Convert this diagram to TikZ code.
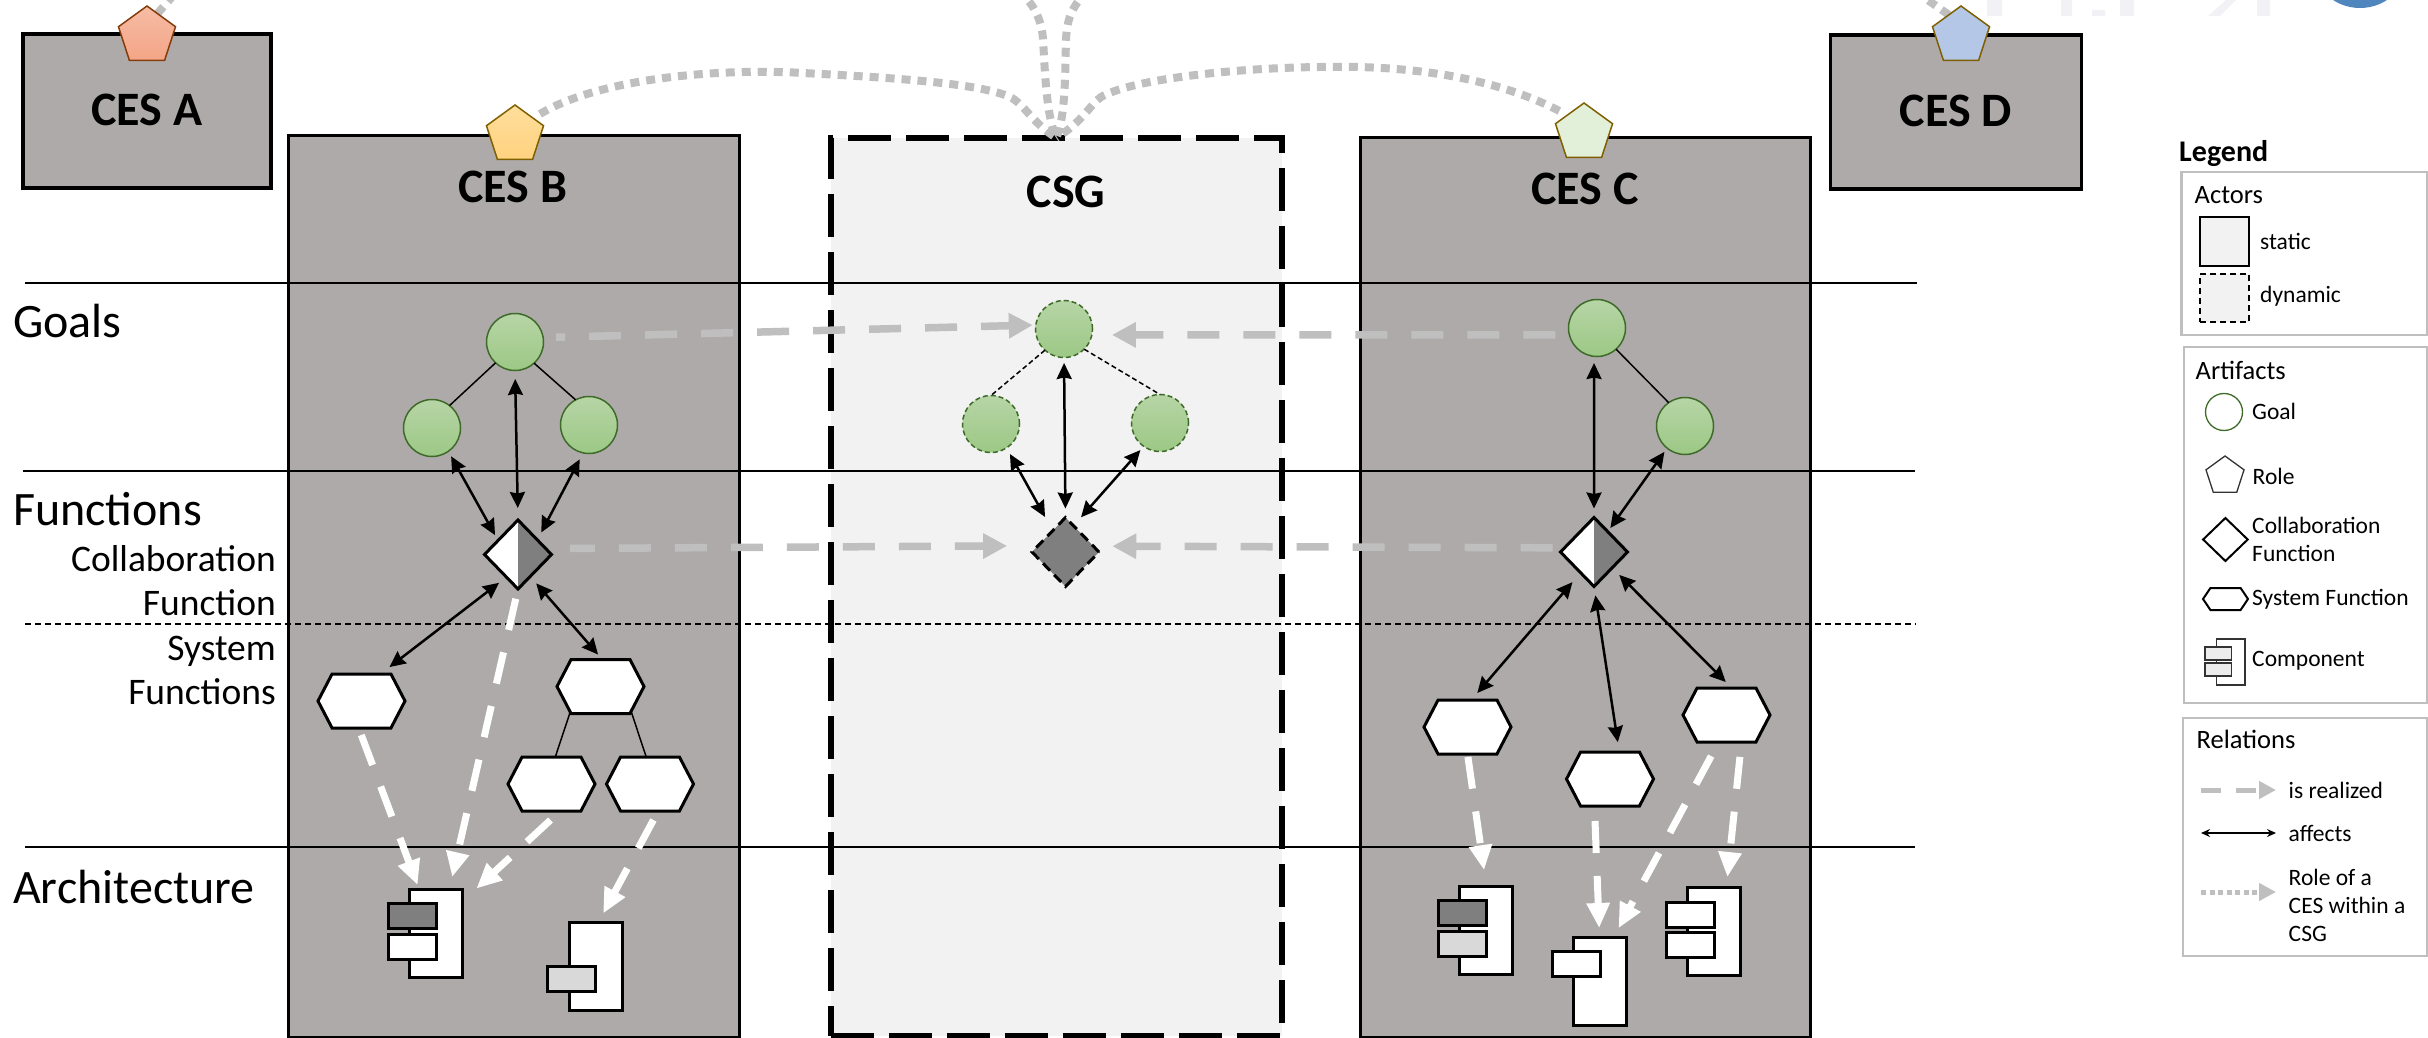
\documentclass[tikz,border=0pt]{standalone}
\usepackage{fontspec}
\setmainfont{Carlito}
\usetikzlibrary{arrows.meta,shapes.geometric,shapes.symbols,backgrounds}
\definecolor{cesgray}{HTML}{AEAAAA}
\definecolor{csgfill}{HTML}{F2F2F2}
\definecolor{arrowgray}{HTML}{BFBFBF}
\definecolor{midgray}{HTML}{7F7F7F}
\definecolor{lightgray2}{HTML}{D9D9D9}
\definecolor{goaltop}{HTML}{B7D5A6}
\definecolor{goalbot}{HTML}{9CC885}
\definecolor{goalline}{HTML}{3F6B2A}
\definecolor{roleline}{HTML}{7F6000}
\definecolor{roleredline}{HTML}{843C0C}
\definecolor{redtop}{HTML}{F6BCA5}
\definecolor{redbot}{HTML}{F4A586}
\definecolor{yellowtop}{HTML}{FFDE9C}
\definecolor{yellowbot}{HTML}{FFD27F}
\definecolor{rolegreen}{HTML}{E2EFD9}
\definecolor{roleblue}{HTML}{B4C7E7}
\definecolor{faint}{HTML}{F2F2F6}
\definecolor{logoblue}{HTML}{4F86BE}
\tikzset{
  cesbox/.style={rectangle,draw=black,fill=cesgray,line width=3pt,inner sep=0pt,outer sep=0pt},
  title/.style={inner sep=0pt,font=\fontsize{48}{50}\selectfont\bfseries,text height=30pt,text depth=0pt},
  leftlab/.style={inner sep=0pt,anchor=west,font=\fontsize{48}{50}\selectfont,text height=30pt,text depth=0pt},
  sublab/.style={inner sep=0pt,anchor=east,align=right,font=\fontsize{37.5}{44}\selectfont},
  pent/.style={regular polygon,regular polygon sides=5,minimum size=60pt,inner sep=0pt,outer sep=0pt,line width=1.5pt},
  goal/.style={circle,minimum size=57pt,inner sep=0pt,outer sep=0pt,draw=goalline,line width=1.5pt,top color=goaltop,bottom color=goalbot},
  dyngoal/.style={goal,dash pattern=on 5pt off 3pt},
  diam/.style={diamond,aspect=1,minimum width=67pt,minimum height=69pt,inner sep=0pt,outer sep=0pt,draw=black,line width=3pt},
  halfdiam/.style={diam,fill=white,path picture={\fill[midgray] (path picture bounding box.north) -- (path picture bounding box.east) -- (path picture bounding box.south) -- cycle;}},
  hexa/.style={signal,signal to=west and east,signal pointer angle=125,minimum width=87pt,minimum height=54pt,inner sep=0pt,outer sep=0pt,draw=black,fill=white,line width=3pt},
  combody/.style={rectangle,draw=black,fill=white,line width=3pt,minimum width=53pt,minimum height=88pt,inner sep=0pt,outer sep=0pt},
  comtab/.style={rectangle,draw=black,fill=white,line width=3pt,minimum width=48pt,minimum height=25pt,inner sep=0pt,outer sep=0pt},
  hline/.style={draw=black,line width=1.6pt},
  thinlink/.style={draw=black,line width=1.5pt},
  affects/.style={draw=black,line width=2.5pt,{Stealth[length=16pt,width=15pt,inset=1.5pt]}-{Stealth[length=16pt,width=15pt,inset=1.5pt]}},
  realize/.style={draw=arrowgray,line width=7.5pt,dash pattern=on 32pt off 24pt,-{Triangle[length=24pt,width=24pt]}},
  whitearrow/.style={draw=white,line width=7pt,dash pattern=on 32pt off 23pt,-{Triangle[length=25pt,width=22pt]}},
  rolecurve/.style={draw=arrowgray,line width=8pt,dash pattern=on 9pt off 7pt},
  legbox/.style={rectangle,draw=arrowgray,fill=white,line width=2.5pt,inner sep=0pt,outer sep=0pt},
  leghead/.style={inner sep=0pt,anchor=west,font=\fontsize{26.5}{30}\selectfont,text height=17pt,text depth=0pt},
  legtext/.style={inner sep=0pt,anchor=west,align=left,font=\fontsize{23.5}{28}\selectfont},
  legsym/.style={inner sep=0pt,outer sep=0pt,line width=2pt,draw=black!80,fill=white}
}
\begin{document}
\begin{tikzpicture}[x=1pt,y=-1pt]
\useasboundingbox (0,0) rectangle (2428,1038);
\clip (0,0) rectangle (2428,1038);
% faint remains at the top edge
\fill[faint] (1987,0) rectangle (2002,16) (2061,0) rectangle (2072,16) (2092,10) rectangle (2105,16) (2120,0) rectangle (2134,16) (2257,0) rectangle (2270,16);
\fill[faint] (2226,0) -- (2236,0) -- (2220,16) -- (2208,16) -- cycle;
\fill[logoblue] (2360,-41.6) circle (49.6);
% actors
\node[cesbox,minimum width=248pt,minimum height=154pt,line width=3.5pt,title] (cesA) at (147,111) {CES A};
\node[cesbox,minimum width=251pt,minimum height=154pt,line width=3.5pt,title] (cesD) at (1956,112) {CES D};
\node[cesbox,minimum width=451pt,minimum height=901pt] (cesB) at (513.5,586.5) {};
\node[rectangle,fill=csgfill,draw=black,line width=6pt,dash pattern=on 43pt off 15pt,minimum width=451pt,minimum height=898pt,inner sep=0pt,outer sep=0pt] (csg) at (1056.3,587) {};
\node[cesbox,minimum width=450pt,minimum height=899pt] (cesC) at (1585,587.5) {};
\node[title] (tB) at (513,187) {CES B};
\node[title] (tG) at (1066,192) {CSG};
\node[title] (tC) at (1585,189) {CES C};
% layer lines
\coordinate (l1a) at (25,283); \coordinate (l1b) at (1917,283);
\coordinate (l2a) at (23,471); \coordinate (l2b) at (1915,471);
\coordinate (l3a) at (25,623.7); \coordinate (l3b) at (1916,623.7);
\coordinate (l4a) at (25,847); \coordinate (l4b) at (1915,847);
\draw[hline] (l1a) -- (l1b);
\draw[hline] (l2a) -- (l2b);
\draw[hline,dash pattern=on 6pt off 4pt] (l3a) -- (l3b);
\draw[hline] (l4a) -- (l4b);
\node[leftlab] (lgoals) at (13,322) {Goals};
\node[leftlab] (lfun) at (13,510) {Functions};
\node[leftlab] (larch) at (13,888) {Architecture};
\node[sublab] (lcf) at (276,581) {Collaboration\\Function};
\node[sublab] (lsf) at (276,670.5) {System\\Functions};
% roles
\node[pent,draw=roleredline,top color=redtop,bottom color=redbot] (pA) at (147,36) {};
\node[pent,draw=roleline,top color=yellowtop,bottom color=yellowbot] (pB) at (515,135) {};
\node[pent,draw=roleline,fill=rolegreen] (pC) at (1584,133) {};
\node[pent,draw=roleline,fill=roleblue] (pD) at (1961,36) {};
% role curves
\coordinate (offA) at (178,-10);
\coordinate (offD) at (1922,-4);
\coordinate (offL) at (1018,-10);
\coordinate (offR) at (1088,-10);
\begin{pgfonlayer}{background}
\draw[rolecurve] (pA.65) -- (offA);
\draw[rolecurve] (pD.120) -- (offD);
\end{pgfonlayer}
\draw[rolecurve,shorten <=8pt] (pB.43) .. controls (600,78) and (720,68) .. (803,73) .. controls (900,78) and (985,84) .. (1012,98) .. controls (1026,107) and (1032,122) .. (csg.north);
\draw[rolecurve,shorten <=9pt] (pC.133) .. controls (1490,75) and (1400,65) .. (1320,67) .. controls (1230,68) and (1130,80) .. (1101,97) .. controls (1090,105) and (1082,122) .. (csg.north);
\draw[rolecurve] (offL) .. controls (1032,2) and (1042,18) .. (1043,40) .. controls (1045,70) and (1046,115) .. (csg.north);
\draw[rolecurve] (offR) .. controls (1074,5) and (1067,15) .. (1066,40) .. controls (1065,70) and (1066,115) .. (csg.north);
% goals
\node[goal] (gb) at (515,342) {};
\node[goal] (gbl) at (432,428) {};
\node[goal] (gbr) at (589,425) {};
\node[dyngoal] (gg) at (1064,329) {};
\node[dyngoal] (ggl) at (991,424) {};
\node[dyngoal] (ggr) at (1160,423) {};
\node[goal] (gc) at (1597,328) {};
\node[goal] (gcr) at (1685,426) {};
% collaboration functions
\node[halfdiam] (db) at (518,554.5) {};
\node[diam,fill=midgray,dash pattern=on 10pt off 6pt] (dg) at (1065.5,552) {};
\node[halfdiam] (dc) at (1594,552) {};
% system functions
\node[hexa] (hb1) at (361.5,701) {};
\node[hexa] (hb2) at (600.5,686.5) {};
\node[hexa] (hb3) at (551.5,784) {};
\node[hexa] (hb4) at (650,784) {};
\node[hexa] (hc1) at (1467.5,727) {};
\node[hexa] (hc2) at (1610,779) {};
\node[hexa] (hc3) at (1726.5,715) {};
% components
\node[combody] (b1) at (436,933) {};
\node[comtab,fill=midgray] (b1a) at (412.5,916) {};
\node[comtab] (b1b) at (412.5,946.5) {};
\node[combody] (b2) at (595.5,966) {};
\node[comtab,fill=lightgray2] (b2a) at (571.5,978.5) {};
\node[combody] (c1) at (1486.3,930) {};
\node[comtab,fill=midgray] (c1a) at (1462.3,913) {};
\node[comtab,fill=lightgray2] (c1b) at (1462.3,943.5) {};
\node[combody] (c2) at (1599.5,981) {};
\node[comtab] (c2a) at (1576,964) {};
\node[combody] (c3) at (1713.75,931) {};
\node[comtab] (c3a) at (1690.3,914.5) {};
\node[comtab] (c3b) at (1690.3,944.5) {};
% goal links
\draw[thinlink] (gb.-133) -- (gbl.52);
\draw[thinlink] (gb.-48) -- (gbr.118);
\draw[thinlink,dash pattern=on 5pt off 3pt] (gg.-132) -- (ggl.north);
\draw[thinlink,dash pattern=on 5pt off 3pt] (gg.-45) -- (ggr.north);
\draw[thinlink] (gc.-48) -- (gcr.125);
\draw[thinlink] (hb2.-140) -- (hb3.82.6);
\draw[thinlink] (hb2.-39.2) -- (hb4.98.4);
% affects
\draw[affects,shorten <=8.5pt,shorten >=12pt] (gb.south) -- (db.north);
\draw[affects,shorten <=5.7pt,shorten >=6.2pt] (gbl.-55) -- (db.145.8);
\draw[affects,shorten <=7.3pt,shorten >=8.4pt] (gbr.-102) -- (db.37.9);
\draw[affects,shorten <=9.3pt,shorten >=11.4pt] (db.-117.5) -- (hb1.55.6);
\draw[affects,shorten <=9.2pt,shorten >=6.6pt] (db.-61.4) -- (hb2.86);
\draw[affects,shorten <=5.5pt,shorten >=9pt] (gg.south) -- (dg.north);
\draw[affects,shorten <=7pt,shorten >=15.7pt] (ggl.-57.7) -- (dg.121.5);
\draw[affects,shorten <=5pt,shorten >=11.3pt] (ggr.-125.5) -- (dg.73.3);
\draw[affects,shorten <=6.7pt,shorten >=9pt] (gc.-96) -- (dc.north);
\draw[affects,shorten <=4.6pt,shorten >=4.5pt] (gcr.-129) -- (dc.56.6);
\draw[affects,shorten <=12.5pt,shorten >=9.2pt] (dc.-123) -- (hc1.82.6);
\draw[affects,shorten <=9pt,shorten >=10pt] (dc.south) -- (hc2.71.2);
\draw[affects,shorten <=10pt,shorten >=8.5pt] (dc.-41.6) -- (hc3.79.3);
% is realized, towards the group
\draw[realize,dash phase=23pt,shorten <=13pt,shorten >=3pt] (gb.9.7) -- (gg.172.6);
\draw[realize,shorten <=14pt,shorten >=20pt] (gc.194.2) -- (gg.-12.2);
\draw[realize,dash phase=7pt,shorten <=24pt,shorten >=31pt] (db.12.5) -- (dg.167.9);
\draw[realize,shorten <=12pt,shorten >=19pt] (dc.172.3) -- (dg.12.1);
% is realized, towards the components
\draw[whitearrow,shorten <=10pt,shorten >=12.3pt] (db.south) -- (b1.73.8);
\draw[whitearrow,shorten <=7.5pt,shorten >=4.3pt] (hb1.-96.5) -- (b1.111.7);
\draw[whitearrow,shorten <=13.3pt,shorten >=19pt] (hb3.-72.9) -- (b1.50.7);
\draw[whitearrow,shorten <=10.2pt,shorten >=9.7pt] (hb4.-73.9) -- (b2.86.5);
\draw[whitearrow,shorten <=3pt,shorten >=16pt] (hc1.south) -- (c1.north);
\draw[whitearrow,shorten <=15pt,shorten >=9pt] (hc2.-120) -- (c2.north);
\draw[whitearrow,shorten <=16pt,shorten >=10pt] (hc3.-106.3) -- (c2.72.9);
\draw[whitearrow,shorten <=15pt,shorten >=10pt] (hc3.-61) -- (c3.74.5);
% legend
\node[inner sep=0pt,anchor=west,font=\fontsize{30}{32}\selectfont\bfseries,text height=19pt,text depth=0pt] (leg) at (2179,152) {Legend};
\node[legbox,minimum width=245.5pt,minimum height=163pt] (lbA) at (2304,253.5) {};
\node[legbox,minimum width=243pt,minimum height=356pt] (lbB) at (2305.5,525) {};
\node[legbox,minimum width=244pt,minimum height=238pt] (lbC) at (2305,837) {};
\node[leghead] (hA) at (2194.5,195) {Actors};
\node[leghead] (hB) at (2195.5,371) {Artifacts};
\node[leghead] (hC) at (2196.5,740) {Relations};
\node[rectangle,minimum width=49pt,minimum height=49pt,inner sep=0pt,draw=black,fill=csgfill,line width=2.5pt] (lstatic) at (2224.5,241.5) {};
\node[rectangle,minimum width=49pt,minimum height=48pt,inner sep=0pt,draw=black,fill=csgfill,line width=2.5pt,dash pattern=on 6pt off 4pt] (ldyn) at (2224.5,298) {};
\node[legtext] (tstatic) at (2260,241) {static};
\node[legtext] (tdyn) at (2260,296) {dynamic};
\node[circle,minimum size=37pt,inner sep=0pt,draw=goalline,fill=white,line width=1.3pt] (lgoal) at (2224,412) {};
\node[legtext] (tgoal) at (2252,411) {Goal};
\node[regular polygon,regular polygon sides=5,minimum size=40pt,legsym,line width=1.3pt] (lrole) at (2225,476) {};
\node[legtext] (trole) at (2252.5,476) {Role};
\node[diamond,aspect=1,minimum width=44.6pt,minimum height=43pt,legsym,draw=black] (ldiam) at (2225.4,539.5) {};
\node[legtext] (tcf) at (2252,539.5) {Collaboration\\Function};
\node[signal,signal to=west and east,signal pointer angle=112,minimum width=45pt,minimum height=22pt,legsym,draw=black] (lhex) at (2225.5,599) {};
\node[legtext] (tsf) at (2252,599) {System Function};
\node[rectangle,minimum width=28.3pt,minimum height=46pt,legsym,line width=1.4pt] (lcb) at (2230.8,662) {};
\node[rectangle,minimum width=26.5pt,minimum height=13pt,legsym,line width=1.4pt,fill=lightgray2!50] (lct1) at (2218.2,653.5) {};
\node[rectangle,minimum width=26.5pt,minimum height=13pt,legsym,line width=1.4pt,fill=lightgray2!50] (lct2) at (2218.2,669.5) {};
\node[legtext] (tcomp) at (2252,661) {Component};
\coordinate (lr1a) at (2200.5,790); \coordinate (lr1b) at (2276,790);
\coordinate (lr2a) at (2201,833); \coordinate (lr2b) at (2276,833);
\coordinate (lr3a) at (2201,892); \coordinate (lr3b) at (2276,892);
\draw[draw=arrowgray,line width=5pt,dash pattern=on 20pt off 15pt,-{Triangle[length=17pt,width=17pt]}] (lr1a) -- (lr1b);
\draw[draw=black,line width=1.5pt,{Stealth[length=9pt,width=8pt]}-{Stealth[length=9pt,width=8pt]}] (lr2a) -- (lr2b);
\draw[draw=arrowgray,line width=5pt,dash pattern=on 5pt off 3.5pt,-{Triangle[length=17pt,width=17pt]}] (lr3a) -- (lr3b);
\node[legtext] (tr1) at (2288.5,790) {is realized};
\node[legtext] (tr2) at (2288.5,833) {affects};
\node[legtext] (tr3) at (2288.5,905) {Role of a\\CES within a\\CSG};
\end{tikzpicture}
\end{document}
